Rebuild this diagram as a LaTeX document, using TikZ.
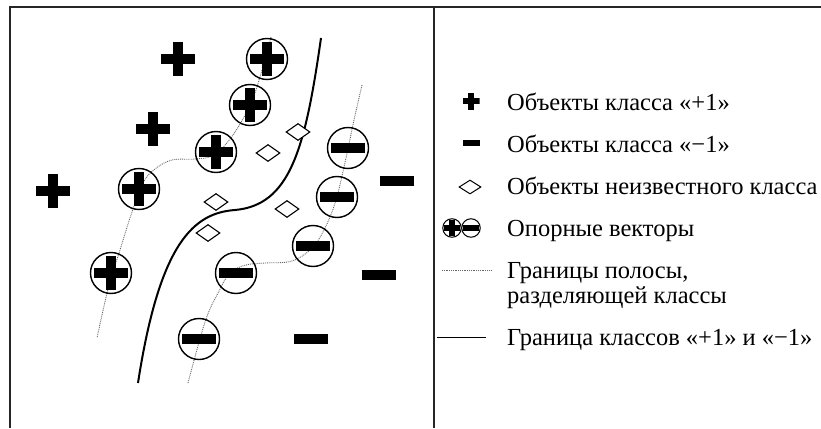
\documentclass[tikz,border=0pt]{standalone}
\usepackage{fontspec}
\setmainfont{Liberation Serif}
\usetikzlibrary{shapes.geometric}
\begin{document}
\begin{tikzpicture}[x=1pt,y=-1pt,
  frame/.style={line width=1.6pt, draw=black!85},
  plusmark/.style={shape=rectangle, minimum size=34pt, inner sep=0pt,
    path picture={\fill (path picture bounding box.center) ++(-17pt,-5pt) rectangle ++(34pt,10pt);
                  \fill (path picture bounding box.center) ++(-5pt,-17pt) rectangle ++(10pt,34pt);}},
  minusmark/.style={shape=rectangle, minimum width=34pt, minimum height=10pt, inner sep=0pt, fill=black},
  supplus/.style={shape=circle, draw, line width=1.4pt, minimum size=41pt, inner sep=0pt,
    path picture={\fill (path picture bounding box.center) ++(-17pt,-5pt) rectangle ++(34pt,10pt);
                  \fill (path picture bounding box.center) ++(-5pt,-17pt) rectangle ++(10pt,34pt);}},
  supminus/.style={shape=circle, draw, line width=1.4pt, minimum size=41pt, inner sep=0pt,
    path picture={\fill (path picture bounding box.center) ++(-17pt,-5pt) rectangle ++(34pt,10pt);}},
  unknown/.style={shape=diamond, draw, fill=white, line width=1.1pt, minimum width=24pt, minimum height=17pt, inner sep=0pt},
  lplus/.style={shape=rectangle, minimum size=17pt, inner sep=0pt,
    path picture={\fill (path picture bounding box.center) ++(-8.5pt,-2.8pt) rectangle ++(17pt,5.6pt);
                  \fill (path picture bounding box.center) ++(-2.8pt,-8.5pt) rectangle ++(5.6pt,17pt);}},
  lminus/.style={shape=rectangle, minimum width=17pt, minimum height=5.6pt, inner sep=0pt, fill=black},
  lunknown/.style={shape=diamond, draw, line width=1pt, minimum width=22pt, minimum height=14pt, inner sep=0pt},
  lsupplus/.style={shape=circle, draw, line width=1pt, minimum size=18.5pt, inner sep=0pt,
    path picture={\fill (path picture bounding box.center) ++(-8pt,-2.7pt) rectangle ++(16pt,5.4pt);
                  \fill (path picture bounding box.center) ++(-2.7pt,-8pt) rectangle ++(5.4pt,16pt);}},
  lsupminus/.style={shape=circle, draw, line width=1pt, minimum size=18.5pt, inner sep=0pt,
    path picture={\fill (path picture bounding box.center) ++(-8pt,-2.7pt) rectangle ++(16pt,5.4pt);}},
  bandline/.style={draw=black!60, line width=0.9pt, dash pattern=on 0.9pt off 1pt},
  boundary/.style={draw=black, line width=2pt},
  legtext/.style={anchor=base west, inner sep=0pt, font=\fontsize{24.5}{25}\selectfont}
]
\useasboundingbox (0,0) rectangle (821,428);
\fill[white] (0,0) rectangle (821,428);
% frame
\draw[frame] (821,7) -- (10,7) -- (10,428);
\draw[frame] (434,7) -- (434,428);

% band borders
\draw[bandline] plot[smooth, tension=0.6] coordinates {(271,37) (262,70) (251,103) (233,135) (214,155) (195,159) (172,160) (155,169) (143,183) (131,215) (120,250) (109,285) (97,338)};
\draw[bandline] plot[smooth, tension=0.6] coordinates {(362,85) (354,120) (346,158) (336,200) (325,228) (312,248) (292,261) (265,263) (246,265) (230,273) (218,293) (205,322) (188,383)};

% class boundary
\draw[boundary] (321,38) .. controls (305,150) and (290,205) .. (235,210) .. controls (195,213) and (160,240) .. (138,383);

% free objects
\node[plusmark] (p1) at (178,59) {};
\node[plusmark] (p2) at (153,129) {};
\node[plusmark] (p3) at (53,191) {};
\node[minusmark] (m1) at (397,181) {};
\node[minusmark] (m2) at (379,275) {};
\node[minusmark] (m3) at (311,339) {};

% support vectors
\node[supplus] (sp1) at (267,59) {};
\node[supplus] (sp2) at (250,105) {};
\node[supplus] (sp3) at (216,152) {};
\node[supplus] (sp4) at (139,189) {};
\node[supplus] (sp5) at (111,273) {};
\node[supminus] (sm1) at (348,148) {};
\node[supminus] (sm2) at (337,197) {};
\node[supminus] (sm3) at (313,246) {};
\node[supminus] (sm4) at (236,273) {};
\node[supminus] (sm5) at (199,339) {};

% unknown objects
\node[unknown] (u1) at (298,132) {};
\node[unknown] (u2) at (268,153) {};
\node[unknown] (u3) at (216,202) {};
\node[unknown] (u4) at (287,209) {};
\node[unknown] (u5) at (208,233) {};

% legend
\node[lplus] (lp) at (471,101) {};
\node[legtext] (t1) at (507,110) {Объекты класса «+1»};
\node[lminus] (lm) at (471,143) {};
\node[legtext] (t2) at (507,152) {Объекты класса «−1»};
\node[lunknown] (lu) at (470,187) {};
\node[legtext] (t3) at (507,194) {Объекты неизвестного класса};
\node[lsupplus] (lsp) at (452,228) {};
\node[lsupminus] (lsm) at (471,228) {};
\node[legtext] (t4) at (507,236) {Опорные векторы};
\coordinate (lb1) at (442,270);
\coordinate (lb2) at (491,270);
\draw[draw=black!60, line width=0.8pt, dash pattern=on 0.6pt off 1.2pt] (lb1) -- (lb2);
\node[legtext] (t5) at (507,278) {Границы полосы,};
\node[legtext] (t6) at (507,303) {разделяющей классы};
\coordinate (ls1) at (437,337);
\coordinate (ls2) at (486,337);
\draw[line width=0.9pt] (ls1) -- (ls2);
\node[legtext] (t7) at (507,345) {Граница классов «+1» и «−1»};
\end{tikzpicture}
\end{document}
